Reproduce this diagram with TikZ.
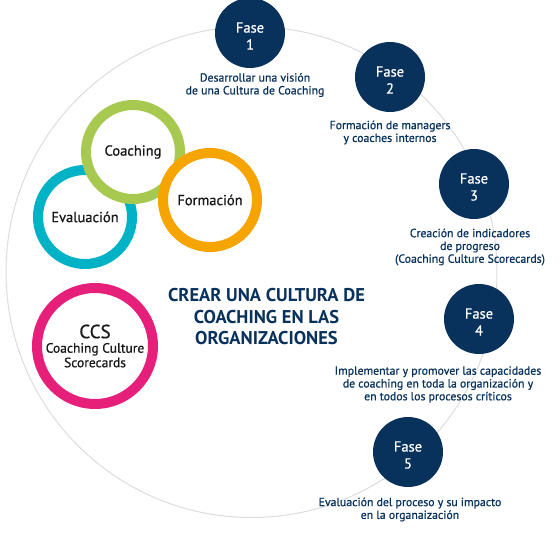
\documentclass[tikz,border=0pt]{standalone}
\usepackage{fontspec}
\setmainfont{PT Sans}
\newfontfamily\medio[FakeBold=0.8]{PT Sans}
\usepackage{xcolor}

\definecolor{navy}{RGB}{8,49,92}
\definecolor{lightline}{RGB}{220,220,220}
\definecolor{verde}{RGB}{168,201,80}
\definecolor{cian}{RGB}{0,178,198}
\definecolor{naranja}{RGB}{246,164,0}
\definecolor{rosa}{RGB}{230,32,122}

\begin{document}
\begin{tikzpicture}[x=1pt,y=-1pt]

\tikzset{
    ring/.style = {
    circle,
    fill=white,
    line width=10pt,
    minimum size=94pt,
    inner sep=0pt,
    align=center,
    text=black!90
    }
}

\tikzstyle{fase}=[circle, fill=navy, minimum size=70pt, inner sep=0pt]
\tikzstyle{fasetxt}=[align=center, text=white, inner sep=0pt, yshift=-3pt, font=\medio\fontsize{14.5}{17}\selectfont]
\tikzstyle{descr}=[align=center, text=navy, inner sep=0pt, font=\medio\fontsize{11.8}{12.8}\selectfont]

\useasboundingbox (0,0) rectangle (560,548);

% gran circulo de fondo
\draw [lightline, line width=1pt] (251.5,272) circle [radius=245.5pt];

% anillos
\node (evaluacion) [ring, draw=cian, font=\medio\fontsize{14.5}{16}\selectfont] at (85,217) {Evaluación};
\node (coaching) [ring, draw=verde, font=\medio\fontsize{14.5}{16}\selectfont] at (133,152) {Coaching};
\node (formacion) [ring, draw=naranja, font=\medio\fontsize{14.5}{16}\selectfont] at (210,200) {Formación};
\node (ccs) [ring, draw=rosa, minimum size=116pt, font=\medio\fontsize{13.5}{14.5}\selectfont] at (95,346)
    {{\fontsize{19}{20}\selectfont CCS}\\Coaching Culture\\Scorecards};

% titulo
\node (titulo) [align=center, text=navy, inner sep=0pt, font=\fontsize{18.5}{21.5}\selectfont\bfseries] at (266.5,317)
    {CREAR UNA CULTURA DE\\COACHING EN LAS\\ORGANIZACIONES};

% fases
\node (f-1) [fase] at (250,33) {};
\node (f-2) [fase] at (390,77) {};
\node (f-3) [fase] at (474,184) {};
\node (f-4) [fase] at (479,319) {};
\node (f-5) [fase] at (408,452) {};

\node (t-1) [fasetxt] at (f-1) {Fase\\1};
\node (t-2) [fasetxt] at (f-2) {Fase\\2};
\node (t-3) [fasetxt] at (f-3) {Fase\\3};
\node (t-4) [fasetxt] at (f-4) {Fase\\4};
\node (t-5) [fasetxt] at (f-5) {Fase\\5};

\node (d-1) [descr] at (255,85) {Desarrollar una visión\\de una Cultura de Coaching};
\node (d-2) [descr] at (390,132.5) {Formación de managers\\y coaches internos};
\node (d-3) [descr] at (470,247) {Creación de indicadores\\de progreso\\(Coaching Culture Scorecards)};
\node (d-4) [descr] at (438,384.5) {Implementar y promover las capacidades\\de coaching en toda la organización y\\en todos los procesos críticos};
\node (d-5) [descr] at (410,509.5) {Evaluación del proceso y su impacto\\en la organaización};

\end{tikzpicture}
\end{document}
